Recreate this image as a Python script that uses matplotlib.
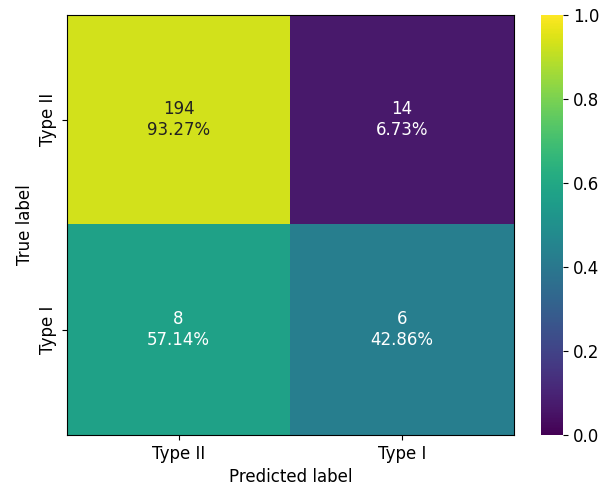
import matplotlib.pyplot as plt
import numpy as np

labels = ["Type II", "Type I"]
counts = np.array([[194, 14],
                   [8, 6]])

norm = counts / counts.sum(axis=1, keepdims=True)

fig = plt.figure(figsize=(6.08, 4.88), dpi=100)
ax = fig.add_axes([0.110, 0.109, 0.735, 0.861])
cax = fig.add_axes([0.890, 0.109, 0.036, 0.861])

im = ax.imshow(norm, cmap="viridis", vmin=0, vmax=1, aspect="auto")
cb = fig.colorbar(im, cax=cax)
cb.outline.set_visible(False)
cb.ax.tick_params(labelsize=12)

for i in range(2):
    for j in range(2):
        color = "#222222" if norm[i, j] > 0.6 else "white"
        ax.text(j, i, f"{counts[i, j]}\n{norm[i, j] * 100:.2f}%",
                ha="center", va="center", color=color, fontsize=12)

ax.set_xticks(range(2))
ax.set_xticklabels(labels, fontsize=12)
ax.set_yticks(range(2))
ax.set_yticklabels(labels, fontsize=12, rotation=90, va="center")
ax.set_xlabel("Predicted label", fontsize=12)
ax.set_ylabel("True label", fontsize=12)

fig.savefig("out.png", dpi=100)
